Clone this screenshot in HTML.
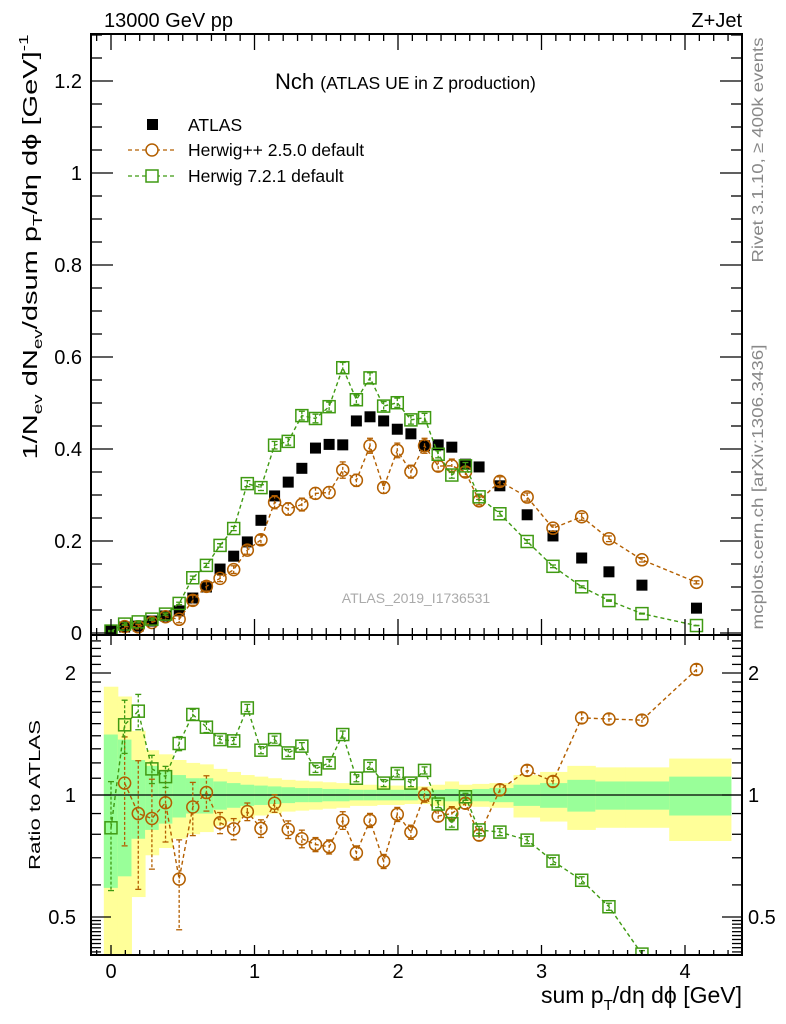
<!DOCTYPE html>
<html><head><meta charset="utf-8"><style>
html,body{margin:0;padding:0;background:#fff;overflow:hidden;width:786px;height:1024px;position:relative;}
svg{display:block;position:absolute;left:0;top:0;font-family:"Liberation Sans",sans-serif;}
</style></head><body>
<svg id="chart" width="786" height="1024" viewBox="0 0 786 1024" xmlns="http://www.w3.org/2000/svg">
<g id="bands"></g>
<g id="ratioRef"></g>
<g id="series"></g>
<g id="axes"></g>
<text x="104" y="27" font-size="20">13000 GeV pp</text>
<text x="742" y="27" font-size="20" text-anchor="end">Z+Jet</text>
<text x="275" y="89" font-size="22">Nch <tspan font-size="17.5">(ATLAS UE in Z production)</tspan></text>
<text transform="translate(763,150) rotate(-90)" font-size="16" fill="#888" text-anchor="middle" textLength="225" lengthAdjust="spacingAndGlyphs">Rivet 3.1.10, ≥ 400k events</text>
<text transform="translate(763,487) rotate(-90)" font-size="16" fill="#888" text-anchor="middle" textLength="285" lengthAdjust="spacingAndGlyphs">mcplots.cern.ch [arXiv:1306.3436]</text>
<text x="416" y="603" font-size="14" fill="#aaa" text-anchor="middle">ATLAS_2019_I1736531</text>
<text transform="translate(37,247) rotate(-90)" font-size="20" text-anchor="middle" textLength="425" lengthAdjust="spacingAndGlyphs">1/N<tspan font-size="13" dy="5">ev</tspan><tspan dy="-5"> dN</tspan><tspan font-size="13" dy="5">ev</tspan><tspan dy="-5">/dsum p</tspan><tspan font-size="13" dy="5">T</tspan><tspan dy="-5">/dη dϕ  [GeV]</tspan><tspan font-size="13" dy="-9">-1</tspan></text>
<text transform="translate(40,795) rotate(-90)" font-size="16" text-anchor="middle" textLength="150" lengthAdjust="spacingAndGlyphs">Ratio to ATLAS</text>
<text x="742" y="1003" font-size="23" text-anchor="end">sum p<tspan font-size="15" dy="7">T</tspan><tspan dy="-7">/dη dϕ [GeV]</tspan></text>
<g>
 <rect x="147" y="119" width="11" height="11" fill="#000"/>
 <text x="188" y="131" font-size="17.5">ATLAS</text>
 <line x1="128" y1="150" x2="175" y2="150" stroke="#b35f00" stroke-width="1.3" stroke-dasharray="4,3"/>
 <circle cx="152" cy="150" r="6" fill="#fff" stroke="#b35f00" stroke-width="1.5"/>
 <text x="188" y="156" font-size="17.5">Herwig++ 2.5.0 default</text>
 <line x1="128" y1="176" x2="175" y2="176" stroke="#3f9a12" stroke-width="1.3" stroke-dasharray="4,3"/>
 <rect x="146" y="170" width="12" height="12" fill="#fff" stroke="#3f9a12" stroke-width="1.5"/>
 <text x="188" y="182" font-size="17.5">Herwig 7.2.1 default</text>
</g>
</svg>
<script>
const xVals = [0,0.095,0.19,0.285,0.38,0.475,0.57,0.665,0.76,0.855,0.95,1.045,1.14,1.235,1.33,1.425,1.52,1.615,1.71,1.805,1.9,1.995,2.09,2.185,2.28,2.375,2.47,2.565,2.71,2.90,3.08,3.28,3.47,3.70,4.08];
const atlasVals = [0.005,0.013,0.015,0.026,0.037,0.048,0.076,0.1,0.139,0.167,0.198,0.245,0.298,0.328,0.358,0.402,0.41,0.409,0.461,0.47,0.461,0.443,0.433,0.407,0.409,0.404,0.367,0.361,0.32,0.257,0.211,0.163,0.133,0.104,0.054];
const herwigppRatio = [null,1.07,0.90,0.875,0.957,0.62,0.934,1.014,0.854,0.825,0.91,0.827,0.954,0.822,0.78,0.755,0.745,0.866,0.72,0.866,0.686,0.896,0.81,1.0,0.887,0.90,0.954,0.796,1.03,1.15,1.08,1.55,1.54,1.53,2.04];
const herwig7Ratio = [0.83,1.49,1.61,1.16,1.11,1.34,1.58,1.47,1.37,1.36,1.64,1.29,1.37,1.27,1.32,1.16,1.20,1.41,1.10,1.18,1.07,1.13,1.07,1.15,0.95,0.85,0.99,0.82,0.81,0.774,0.687,0.616,0.53,0.405,0.3];
const herwigppErr = [0,0.3,0.35,0.25,0.2,0.25,0.15,0.1,0.06,0.06,0.05,0.05,0.05,0.05,0.05,0.04,0.04,0.05,0.04,0.04,0.04,0.04,0.04,0.04,0.03,0.04,0.03,0.03,0.03,0.03,0.03,0.03,0.03,0.03,0.03];
const herwig7Err = [0.3,0.15,0.1,0.08,0.06,0.04,0.03,0.03,0.02,0.02,0.02,0.02,0.02,0.02,0.02,0.02,0.02,0.02,0.02,0.02,0.02,0.02,0.02,0.02,0.02,0.02,0.02,0.02,0.02,0.02,0.02,0.02,0.02,0.02,0.02];
const bandTot = [0.85,0.75,0.44,0.29,0.26,0.22,0.2,0.19,0.16,0.14,0.12,0.11,0.1,0.09,0.085,0.08,0.075,0.07,0.06,0.06,0.055,0.055,0.05,0.05,0.06,0.08,0.06,0.065,0.07,0.12,0.14,0.18,0.17,0.17,0.23];
const bandStat = [0.41,0.37,0.22,0.18,0.15,0.12,0.1,0.1,0.08,0.07,0.06,0.055,0.05,0.045,0.04,0.04,0.035,0.035,0.03,0.03,0.03,0.03,0.03,0.025,0.03,0.035,0.03,0.035,0.04,0.06,0.07,0.09,0.08,0.08,0.11];
const mainTicks = [0,0.2,0.4,0.6,0.8,1,1.2];
const mainTickLabels = ["0","0.2","0.4","0.6","0.8","1","1.2"];
const xTicks = [0,1,2,3,4];
const ratioTicks = [0.5,1,2];
const ratioTickLabels = ["0.5","1","2"];

const NS="http://www.w3.org/2000/svg";
const L=91,R=742,T=34,MB=635,RB=955;
const X=v=>111+v*143.5;
const Ym=v=>633-v*460;
const Yr=r=>795-Math.log2(r)*122;
const ORG="#b35f00",GRN="#3f9a12";
function mk(tag,attrs,parent){const e=document.createElementNS(NS,tag);for(const k in attrs)e.setAttribute(k,attrs[k]);parent.appendChild(e);return e;}
const svg=document.getElementById('chart');
const gB=document.getElementById('bands'),gS=document.getElementById('series'),gA=document.getElementById('axes'),gRef=document.getElementById('ratioRef');
const defs=mk('defs',{},svg);
const cm=mk('clipPath',{id:'cmain'},defs);mk('rect',{x:L,y:T,width:R-L,height:MB-T},cm);
const cr=mk('clipPath',{id:'cratio'},defs);mk('rect',{x:L,y:MB,width:R-L,height:RB-MB},cr);
gB.setAttribute('clip-path','url(#cratio)');

function edges(i){const lo=i===0?xVals[0]-0.05:(xVals[i-1]+xVals[i])/2;const hi=i===xVals.length-1?xVals[i]+0.24:(xVals[i]+xVals[i+1])/2;return [lo,hi];}
for(let i=0;i<xVals.length;i++){
 const [lo,hi]=edges(i);
 const t=bandTot[i],s=bandStat[i];
 const y1=Yr(1+t),y2=Yr(Math.max(1-t,0.01));
 const b=mk('rect',{x:X(lo),y:y1,width:X(hi)-X(lo)+0.5,height:y2-y1,fill:'#ffff99'},gB);
 
 
 const g1=Yr(1+s),g2=Yr(1-s);
 const c=mk('rect',{x:X(lo),y:g1,width:X(hi)-X(lo)+0.5,height:g2-g1,fill:'#99ff99'},gB);
 
 
}
const rl=mk('line',{x1:L,x2:R,y1:Yr(1),y2:Yr(1),stroke:'#000','stroke-width':1.3},gRef);



function drawSeries(vals,errs,yf,color,shape,name,clip){
 const g=mk('g',{'clip-path':'url(#'+clip+')'},gS);
 
 
 let pts=[];
 vals.forEach((v,i)=>{if(v!==null&&v>0)pts.push([X(xVals[i]),yf(v)]);});
 const ln=mk('polyline',{points:pts.map(p=>p.join(',')).join(' '),fill:'none',stroke:color,'stroke-width':1.4,'stroke-dasharray':'4,3'},g);
 
 
 vals.forEach((v,i)=>{
  if(v===null||!(v>0))return;
  const cx=X(xVals[i]),cy=yf(v);
  const e=errs[i]*v;
  if(e>0){
   const ya=yf(v+e),yb=yf(Math.max(v-e,1e-4));
   const eb=mk('line',{x1:cx,x2:cx,y1:ya,y2:yb,stroke:color,'stroke-width':1.3,'stroke-dasharray':'3,2'},g);
   
   
   mk('line',{x1:cx-3,x2:cx+3,y1:ya,y2:ya,stroke:color,'stroke-width':1.3},g);
   mk('line',{x1:cx-3,x2:cx+3,y1:yb,y2:yb,stroke:color,'stroke-width':1.3},g);
  }
  let m;
  if(shape==='circle')m=mk('circle',{cx:cx,cy:cy,r:6,fill:'none',stroke:color,'stroke-width':1.5},g);
  else m=mk('rect',{x:cx-6,y:cy-6,width:12,height:12,fill:'none',stroke:color,'stroke-width':1.5},g);
  
  
 });
}
const hppMain=atlasVals.map((a,i)=>herwigppRatio[i]===null?null:a*herwigppRatio[i]);
const h7Main=atlasVals.map((a,i)=>a*herwig7Ratio[i]);
const gAt=mk('g',{'clip-path':'url(#cmain)'},gS);


atlasVals.forEach((v,i)=>{
 const r=mk('rect',{x:X(xVals[i])-5.5,y:Ym(v)-5.5,width:11,height:11,fill:'#000'},gAt);
 
 
});
drawSeries(hppMain,herwigppErr,Ym,ORG,'circle','herwigpp-main','cmain');
drawSeries(h7Main,herwig7Err,Ym,GRN,'square','herwig7-main','cmain');
drawSeries(herwigppRatio,herwigppErr,Yr,ORG,'circle','herwigpp-ratio','cratio');
drawSeries(herwig7Ratio,herwig7Err,Yr,GRN,'square','herwig7-ratio','cratio');

[[T,MB],[MB,RB]].forEach(([a,b],k)=>{
 const f=mk('rect',{x:L,y:a,width:R-L,height:b-a,fill:'none',stroke:'#000','stroke-width':2},gA);
 
 
});
function tick(x1,y1,x2,y2){mk('line',{x1,y1,x2,y2,stroke:'#000','stroke-width':1.3},gA);}
for(let k=-1;k<=45;k++){
 const v=k/10;const px=X(v);if(px<L+1||px>R-1)continue;
 const maj=k%10===0;
 const lm=maj?16:7, lr=maj?10:5;
 tick(px,T,px,T+lm);tick(px,MB,px,MB-lm);
 tick(px,MB,px,MB+lr);tick(px,RB,px,RB-lr);
}
xTicks.forEach(v=>{
 const t=mk('text',{x:X(v),y:978,'font-size':20,'text-anchor':'middle'},gA);
 
 
 t.textContent=String(v);
});
for(let k=0;k<=26;k++){
 const v=k*0.05;const py=Ym(v);if(py<T)continue;
 const maj=k%4===0;const l=maj?22:11;
 tick(L,py,L+l,py);tick(R,py,R-l,py);
}
mainTicks.forEach((v,i)=>{
 const t=mk('text',{x:82,y:Ym(v)+7,'font-size':20,'text-anchor':'end'},gA);
 
 
 t.textContent=mainTickLabels[i];
});
const minorR=[0.41,0.42,0.43,0.44,0.45,0.46,0.47,0.48,0.49,0.6,0.7,0.8,0.9,1.1,1.2,1.3,1.4,1.5,1.6,1.7,1.8,1.9,2.1,2.2,2.3,2.4];
minorR.forEach(r=>{const py=Yr(r);if(py<MB+1||py>RB-1)return;tick(L,py,L+10,py);tick(R,py,R-10,py);});
ratioTicks.forEach((r,i)=>{
 const py=Yr(r);tick(L,py,L+20,py);tick(R,py,R-20,py);
 const t=mk('text',{x:76,y:py+7,'font-size':20,'text-anchor':'end'},gA);
 
 
 t.textContent=ratioTickLabels[i];
 const t2=mk('text',{x:748,y:py+7,'font-size':20},gA);
 
 
 t2.textContent=ratioTickLabels[i];
});
</script>
</body></html>
